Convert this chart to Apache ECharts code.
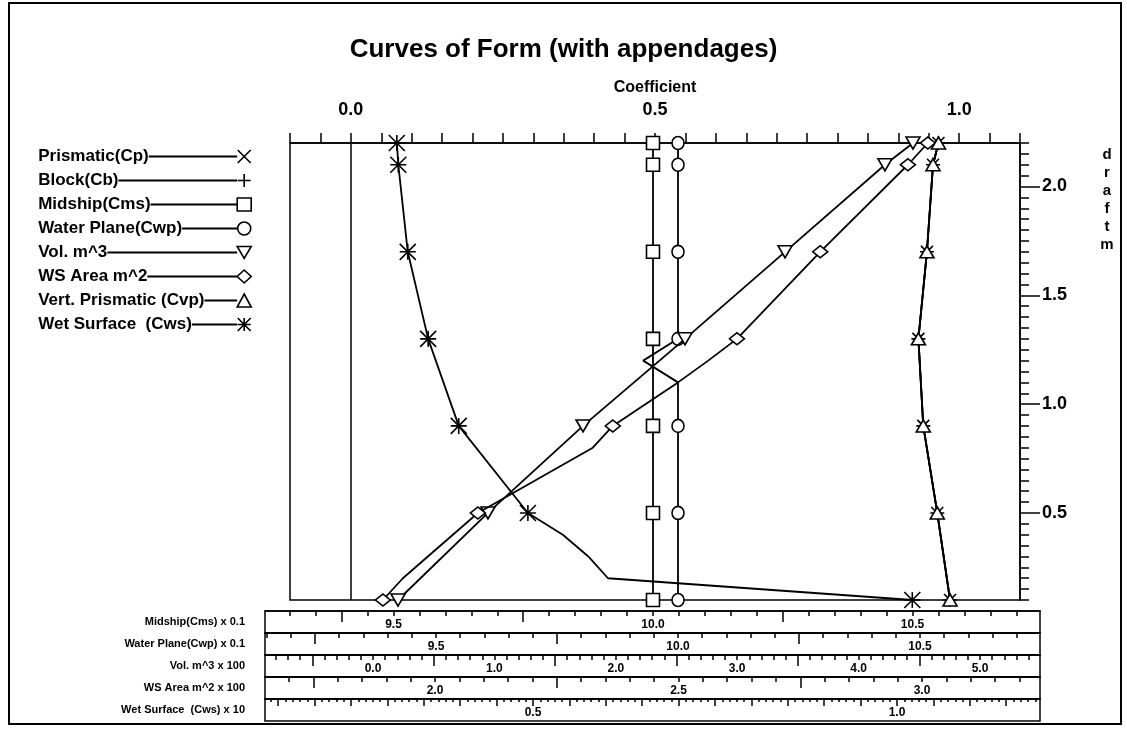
<!DOCTYPE html>
<html><head><meta charset="utf-8">
<script src="https://cdn.jsdelivr.net/npm/echarts@6/dist/echarts.min.js"></script>
<style>html,body{margin:0;padding:0;background:#fff}#c{width:1127px;height:730px}</style>
</head><body><div id="c"></div>
<script>
// ---------------- DATA ----------------
const keyDrafts = [0.1, 0.5, 0.9, 1.3, 1.7, 2.1, 2.2];          // drafts with markers (m)
const draftLabels = [0.5, 1.0, 1.5, 2.0];
const coefLabels = [0.0, 0.5, 1.0];

// Coefficient scale (top axis)
const cpDrafts = [0.1, 0.5, 0.9, 1.3, 1.7, 2.1, 2.2];
const cpValues = [0.985, 0.964, 0.941, 0.933, 0.947, 0.957, 0.966];
const cbDrafts = [0.1, 0.5, 0.9, 1.3, 1.7, 2.1, 2.2];
const cbValues = [0.985, 0.964, 0.941, 0.933, 0.947, 0.957, 0.966];
const cvpDrafts = [0.1, 0.5, 0.9, 1.3, 1.7, 2.1, 2.2];
const cvpValues = [0.985, 0.964, 0.941, 0.933, 0.947, 0.957, 0.966];
// Midship (Cms) x 0.1 scale
const cmsDrafts = [0.1, 0.5, 0.9, 1.3, 1.7, 2.1, 2.2];
const cmsValues = [10.0, 10.0, 10.0, 10.0, 10.0, 10.0, 10.0];
// Water Plane (Cwp) x 0.1 scale
const cwpDrafts = [0.1, 0.5, 0.9, 1.1, 1.2, 1.3, 1.7, 2.1, 2.2];
const cwpValues = [10.0, 10.0, 10.0, 10.0, 9.928, 10.0, 10.0, 10.0, 10.0];
// Vol. m^3 x 100 scale
const volDrafts = [0.1, 0.5, 0.9, 1.3, 1.7, 2.1, 2.2];
const volValues = [0.206, 0.947, 1.730, 2.570, 3.394, 4.217, 4.448];
// WS Area m^2 x 100 scale
const wsDrafts = [0.1, 0.2, 0.5, 0.8, 0.9, 1.1, 1.2, 1.3, 1.7, 2.1, 2.2];
const wsValues = [1.893, 1.934, 2.088, 2.324, 2.365, 2.499, 2.561, 2.620, 2.791, 2.971, 3.012];
// Wet Surface (Cws) x 10 scale
const cwsDrafts = [0.1, 0.2, 0.3, 0.4, 0.5, 0.9, 1.3, 1.7, 2.1, 2.2];
const cwsValues = [1.021, 0.603, 0.576, 0.541, 0.493, 0.398, 0.356, 0.328, 0.315, 0.313];

// Auxiliary scales (bottom strips)
const stripNames = ['Midship(Cms) x 0.1', 'Water Plane(Cwp) x 0.1', 'Vol. m^3 x 100', 'WS Area m^2 x 100', 'Wet Surface  (Cws) x 10'];
const stripMin = [9.2524, 9.1467, -0.8896, 1.6509, 0.1319];
const stripMax = [10.7457, 10.7479, 5.4942, 3.2423, 1.1964];
const stripMinorStep = [0.05, 0.05, 0.1, 0.05, 0.01];
const stripLongTicks = [[9.4, 9.75, 10.25], [9.25, 9.75, 10.25], [-0.5, 0.5, 1.5, 2.5, 3.5, 4.5], [1.75, 2.25, 2.75], null];
const stripLongStep5 = 0.05;
const stripLabels = [[9.5, 10.0, 10.5], [9.5, 10.0, 10.5], [0, 1, 2, 3, 4, 5], [2.0, 2.5, 3.0], [0.5, 1.0]];

// ---------------- LAYOUT ----------------
const W = 1127, H = 730;
const FONT = '"Liberation Sans", Arial, Helvetica, sans-serif';
const PLOT = {left: 290, right: 1020, top: 143, bottom: 600};
const STRIP = {left: 265, right: 1040, tops: [611, 633, 655, 677, 699], height: 22};
const BLACK = '#000';

function mainRange(i) {
  const span = STRIP.right - STRIP.left;
  const f0 = (PLOT.left - STRIP.left) / span, f1 = (PLOT.right - STRIP.left) / span;
  const a = stripMin[i], b = stripMax[i];
  return [a + (b - a) * f0, a + (b - a) * f1];
}
function ticksBetween(min, max, step) {
  const out = [];
  for (let k = Math.ceil(min / step - 1e-9); k * step <= max + 1e-9; k++) out.push(+(k * step).toFixed(4));
  return out;
}
function buildData(drafts, values) {
  return drafts.map((d, k) => {
    const item = {value: [values[k], d]};
    if (!keyDrafts.includes(d)) item.symbol = 'none';
    return item;
  });
}

const SYM = {
  cross: 'path://M0,0L12,12M12,0L0,12',
  plus: 'path://M6,0L6,12M0,6L12,6',
  star: 'path://M0,0L12,12M12,0L0,12M0,6L12,6M6,0L6,12',
  tdown: 'path://M0,0L14,0L7,12Z'
};

const seriesDefs = [
  {name: 'Prismatic(Cp)', axis: 0, drafts: cpDrafts, values: cpValues, symbol: SYM.cross, size: 12, fill: BLACK},
  {name: 'Block(Cb)', axis: 0, drafts: cbDrafts, values: cbValues, symbol: SYM.plus, size: 14, fill: BLACK},
  {name: 'Midship(Cms)', axis: 1, drafts: cmsDrafts, values: cmsValues, symbol: 'rect', size: 13, fill: '#fff'},
  {name: 'Water Plane(Cwp)', axis: 2, drafts: cwpDrafts, values: cwpValues, symbol: 'circle', size: [12, 13], fill: '#fff'},
  {name: 'Vol. m^3', axis: 3, drafts: volDrafts, values: volValues, symbol: SYM.tdown, size: [14, 12], fill: '#fff'},
  {name: 'WS Area m^2', axis: 4, drafts: wsDrafts, values: wsValues, symbol: 'diamond', size: [15, 12], fill: '#fff'},
  {name: 'Vert. Prismatic (Cvp)', axis: 0, drafts: cvpDrafts, values: cvpValues, symbol: 'triangle', size: [14, 12], fill: '#fff'},
  {name: 'Wet Surface  (Cws)', axis: 5, drafts: cwsDrafts, values: cwsValues, symbol: SYM.star, size: 16, fill: BLACK}
];

// measure legend texts to size connector lines
const LEG_FONT = 'bold 17px ' + FONT;
const ctx = document.createElement('canvas').getContext('2d');
ctx.font = LEG_FONT;
const LEG_TEXT_LEFT = 37, LEG_ICON_RIGHT = 252, LEG_ICON_W = 14;
const rich = {t: {fontFamily: FONT, fontWeight: 'bold', fontSize: 17, lineHeight: 20, color: BLACK}};
seriesDefs.forEach((s, i) => {
  const tw = ctx.measureText(s.name).width;
  const lw = Math.max(10, (LEG_ICON_RIGHT - LEG_ICON_W) - LEG_TEXT_LEFT - tw - 2);
  rich['l' + i] = {width: lw, height: 2, backgroundColor: BLACK};
});

// ---------------- AXES ----------------
const xAxes = [{
  type: 'value', gridIndex: 0, position: 'top', min: -0.1, max: 1.1, interval: 0.05,
  name: 'Coefficient', nameLocation: 'middle', nameGap: 47,
  nameTextStyle: {fontFamily: FONT, fontWeight: 'bold', fontSize: 16, color: BLACK},
  axisLine: {show: true, onZero: false, lineStyle: {color: BLACK, width: 1.5}},
  axisTick: {show: true, inside: false, length: 10, lineStyle: {color: BLACK, width: 1.5}},
  axisLabel: {customValues: coefLabels, formatter: v => v.toFixed(1), margin: 24,
    fontFamily: FONT, fontWeight: 'bold', fontSize: 18, color: BLACK},
  splitLine: {show: false}
}];
for (let i = 0; i < 5; i++) {
  const r = mainRange(i);
  xAxes.push({type: 'value', gridIndex: 0, show: false, min: r[0], max: r[1],
    axisLine: {onZero: false}, splitLine: {show: false}});
}
for (let i = 0; i < 5; i++) {
  const shortLen = i === 4 ? 3 : 5, longLen = i === 4 ? 7 : 11;
  const longTicks = stripLongTicks[i] || ticksBetween(stripMin[i], stripMax[i], stripLongStep5);
  xAxes.push({
    type: 'value', gridIndex: i + 1, position: 'top', min: stripMin[i], max: stripMax[i],
    axisLine: {show: true, onZero: false, lineStyle: {color: BLACK, width: 1.5}},
    axisTick: {show: true, inside: true, length: shortLen, customValues: ticksBetween(stripMin[i], stripMax[i], stripMinorStep[i]),
      lineStyle: {color: BLACK, width: 1.5}},
    axisLabel: {show: true, inside: true, customValues: stripLabels[i], formatter: v => v.toFixed(1), margin: 8,
      fontFamily: FONT, fontWeight: 'bold', fontSize: 12, color: BLACK},
    splitLine: {show: false}
  });
  xAxes.push({
    type: 'value', gridIndex: i + 1, position: 'top', min: stripMin[i], max: stripMax[i],
    axisLine: {show: false, onZero: false},
    axisTick: {show: true, inside: true, length: longLen, customValues: longTicks, lineStyle: {color: BLACK, width: 1.5}},
    axisLabel: {show: false}, splitLine: {show: false}
  });
}
const yAxes = [{
  type: 'value', gridIndex: 0, position: 'right', min: 0.1, max: 2.2, interval: 0.05,
  axisLine: {show: true, onZero: false, lineStyle: {color: BLACK, width: 1.5}},
  axisTick: {show: true, inside: false, length: 9, lineStyle: {color: BLACK, width: 1.5}},
  axisLabel: {show: false}, splitLine: {show: false}
}, {
  type: 'value', gridIndex: 0, position: 'right', min: 0.1, max: 2.2,
  axisLine: {show: false, onZero: false},
  axisTick: {show: true, inside: false, length: 20, customValues: draftLabels, lineStyle: {color: BLACK, width: 1.5}},
  axisLabel: {customValues: draftLabels, formatter: v => v.toFixed(1), margin: 22,
    fontFamily: FONT, fontWeight: 'bold', fontSize: 18, color: BLACK},
  splitLine: {show: false}
}];
for (let i = 0; i < 5; i++) {
  yAxes.push({
    type: 'category', gridIndex: i + 1, data: [stripNames[i]],
    axisLine: {show: false, onZero: false}, axisTick: {show: false},
    axisLabel: {margin: 20, fontFamily: FONT, fontWeight: 'bold', fontSize: 11, color: BLACK},
    splitLine: {show: false}
  });
}

const grids = [{left: PLOT.left, right: W - PLOT.right, top: PLOT.top, bottom: H - PLOT.bottom,
  show: true, borderColor: BLACK, borderWidth: 1.5, backgroundColor: 'transparent'}];
STRIP.tops.forEach(t => grids.push({left: STRIP.left, right: W - STRIP.right, top: t, height: STRIP.height,
  show: true, borderColor: BLACK, borderWidth: 1.5, backgroundColor: 'transparent'}));

const series = seriesDefs.map((s, i) => {
  const o = {
    name: s.name, type: 'line', xAxisIndex: s.axis, yAxisIndex: 0,
    data: buildData(s.drafts, s.values),
    symbol: s.symbol, symbolSize: s.size, showAllSymbol: true, clip: false,
    lineStyle: {color: BLACK, width: 1.8},
    itemStyle: {color: s.fill, borderColor: BLACK, borderWidth: 1.6},
    emphasis: {disabled: true}, z: 3 + i
  };
  if (i === 0) {
    o.markLine = {silent: true, symbol: 'none', label: {show: false},
      lineStyle: {color: BLACK, width: 1.5, type: 'solid'}, data: [{xAxis: 0}]};
  }
  return o;
});

const option = {
  animation: false,
  backgroundColor: '#fff',
  title: {text: 'Curves of Form (with appendages)', left: 'center', top: 37, padding: 0,
    textStyle: {fontFamily: FONT, fontWeight: 'bold', fontSize: 26, color: BLACK}},
  legend: {
    orient: 'vertical', align: 'right', right: W - LEG_ICON_RIGHT, top: 148, padding: 0,
    itemWidth: LEG_ICON_W, itemHeight: 13, itemGap: 7, selectedMode: false,
    data: seriesDefs.map(s => ({name: s.name, icon: s.symbol,
      itemStyle: {color: s.fill, borderColor: BLACK, borderWidth: 1.6}})),
    formatter: name => {
      const i = seriesDefs.findIndex(s => s.name === name);
      return '{t|' + name + '}{l' + i + '|}';
    },
    textStyle: {fontFamily: FONT, fontWeight: 'bold', fontSize: 17, color: BLACK, padding: [0, -5, 0, 0], rich: rich}
  },
  grid: grids,
  xAxis: xAxes,
  yAxis: yAxes,
  series: series,
  graphic: [
    {type: 'rect', silent: true, z: -10, shape: {x: 9, y: 3, width: 1112, height: 721},
      style: {fill: 'none', stroke: BLACK, lineWidth: 2}},
    {type: 'text', silent: true, x: 1107, y: 146,
      style: {text: 'd\nr\na\nf\nt\nm', align: 'center', fill: BLACK, lineHeight: 18,
        font: 'bold 15px ' + FONT}}
  ]
};
const chart = echarts.init(document.getElementById('c'));
chart.setOption(option);
</script>
</body></html>
